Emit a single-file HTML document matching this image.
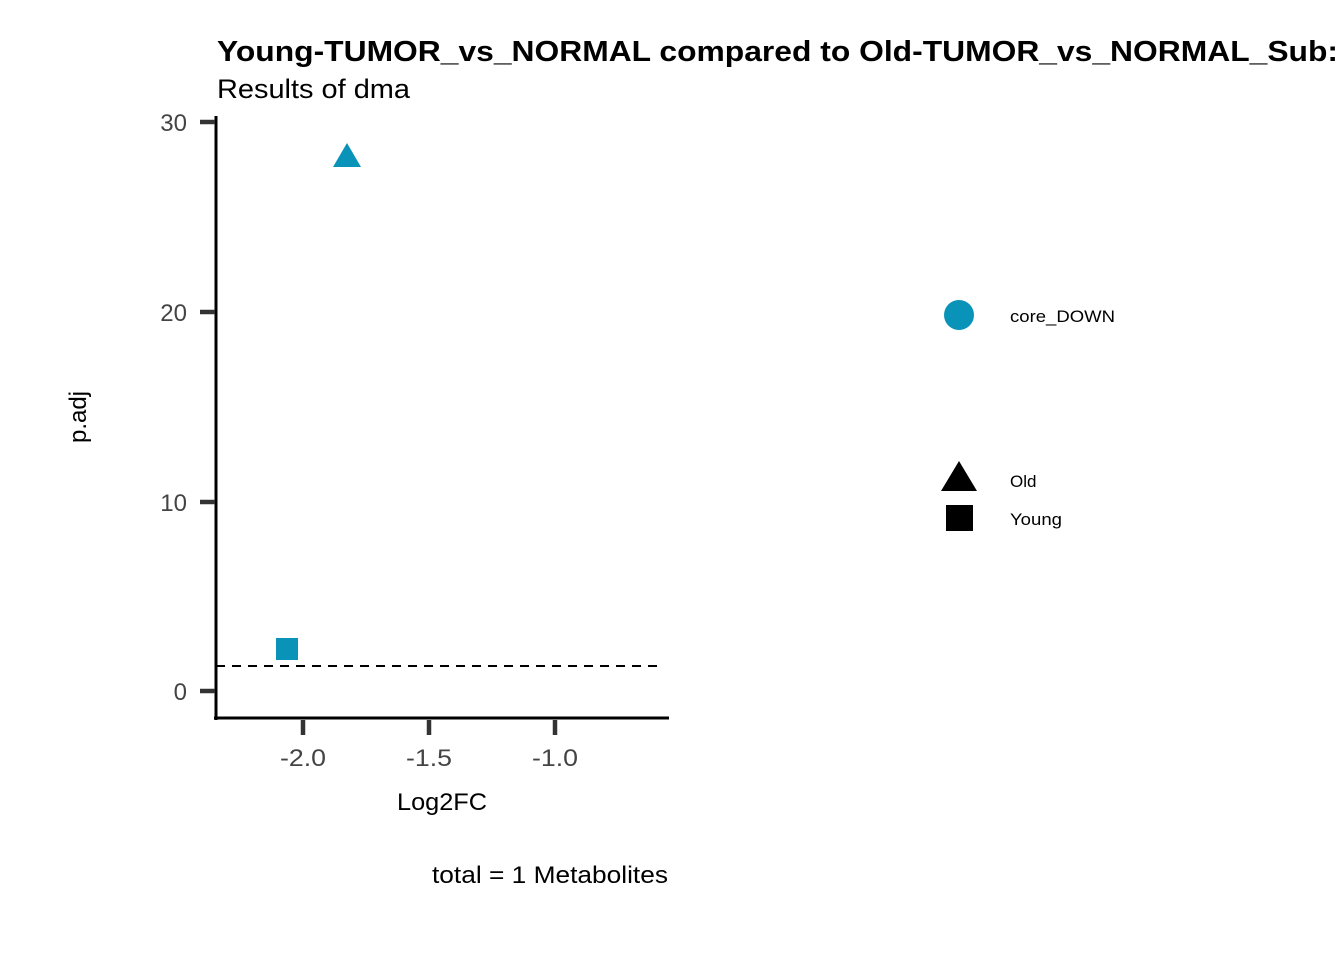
<!DOCTYPE html>
<html><head><meta charset="utf-8"><style>body{margin:0;background:#fff}</style></head><body>
<svg width="1344" height="960" xmlns="http://www.w3.org/2000/svg" font-family="Liberation Sans, sans-serif">
<rect width="1344" height="960" fill="#fff"/>
<text x="217" y="61" font-size="29" font-weight="bold" textLength="1121" lengthAdjust="spacingAndGlyphs">Young-TUMOR_vs_NORMAL compared to Old-TUMOR_vs_NORMAL_Sub:</text>
<text x="217" y="98" font-size="27" textLength="193" lengthAdjust="spacingAndGlyphs">Results of dma</text>
<line x1="216" y1="116" x2="216" y2="720" stroke="#000" stroke-width="3"/>
<line x1="214" y1="718" x2="669" y2="718" stroke="#000" stroke-width="3"/>
<g stroke="#333" stroke-width="4.5">
<line x1="200" y1="122" x2="215" y2="122"/><line x1="200" y1="312" x2="215" y2="312"/>
<line x1="200" y1="502" x2="215" y2="502"/><line x1="200" y1="691" x2="215" y2="691"/>
<line x1="303" y1="720" x2="303" y2="735"/><line x1="429" y1="720" x2="429" y2="735"/>
<line x1="555" y1="720" x2="555" y2="735"/>
</g>
<g font-size="24" fill="#444" text-anchor="end">
<text x="187" y="131">30</text><text x="187" y="321">20</text><text x="187" y="511">10</text><text x="187" y="700">0</text>
</g>
<g font-size="24" fill="#444" text-anchor="middle">
<text x="303" y="766" textLength="46" lengthAdjust="spacingAndGlyphs">-2.0</text><text x="429" y="766" textLength="46" lengthAdjust="spacingAndGlyphs">-1.5</text><text x="555" y="766" textLength="46" lengthAdjust="spacingAndGlyphs">-1.0</text>
</g>
<text x="397" y="810" font-size="24" textLength="90" lengthAdjust="spacingAndGlyphs">Log2FC</text>
<text x="86" y="417" font-size="24" text-anchor="middle" transform="rotate(-90 86 417)">p.adj</text>
<line x1="216" y1="666" x2="662" y2="666" stroke="#000" stroke-width="2" stroke-dasharray="9,7"/>
<polygon points="347,143 361,167 333,167" fill="#0a93b8"/>
<rect x="276" y="638" width="22" height="22" fill="#0a93b8"/>
<circle cx="959" cy="315" r="15" fill="#0a93b8"/>
<text x="1010" y="322" font-size="17" textLength="105" lengthAdjust="spacingAndGlyphs">core_DOWN</text>
<polygon points="959,461 977,491 941,491" fill="#000"/>
<rect x="946" y="505" width="27" height="26" fill="#000"/>
<text x="1010" y="487" font-size="17">Old</text>
<text x="1010" y="525" font-size="17" textLength="52" lengthAdjust="spacingAndGlyphs">Young</text>
<text x="432" y="883" font-size="24" textLength="236" lengthAdjust="spacingAndGlyphs">total = 1 Metabolites</text>
</svg>
</body></html>
